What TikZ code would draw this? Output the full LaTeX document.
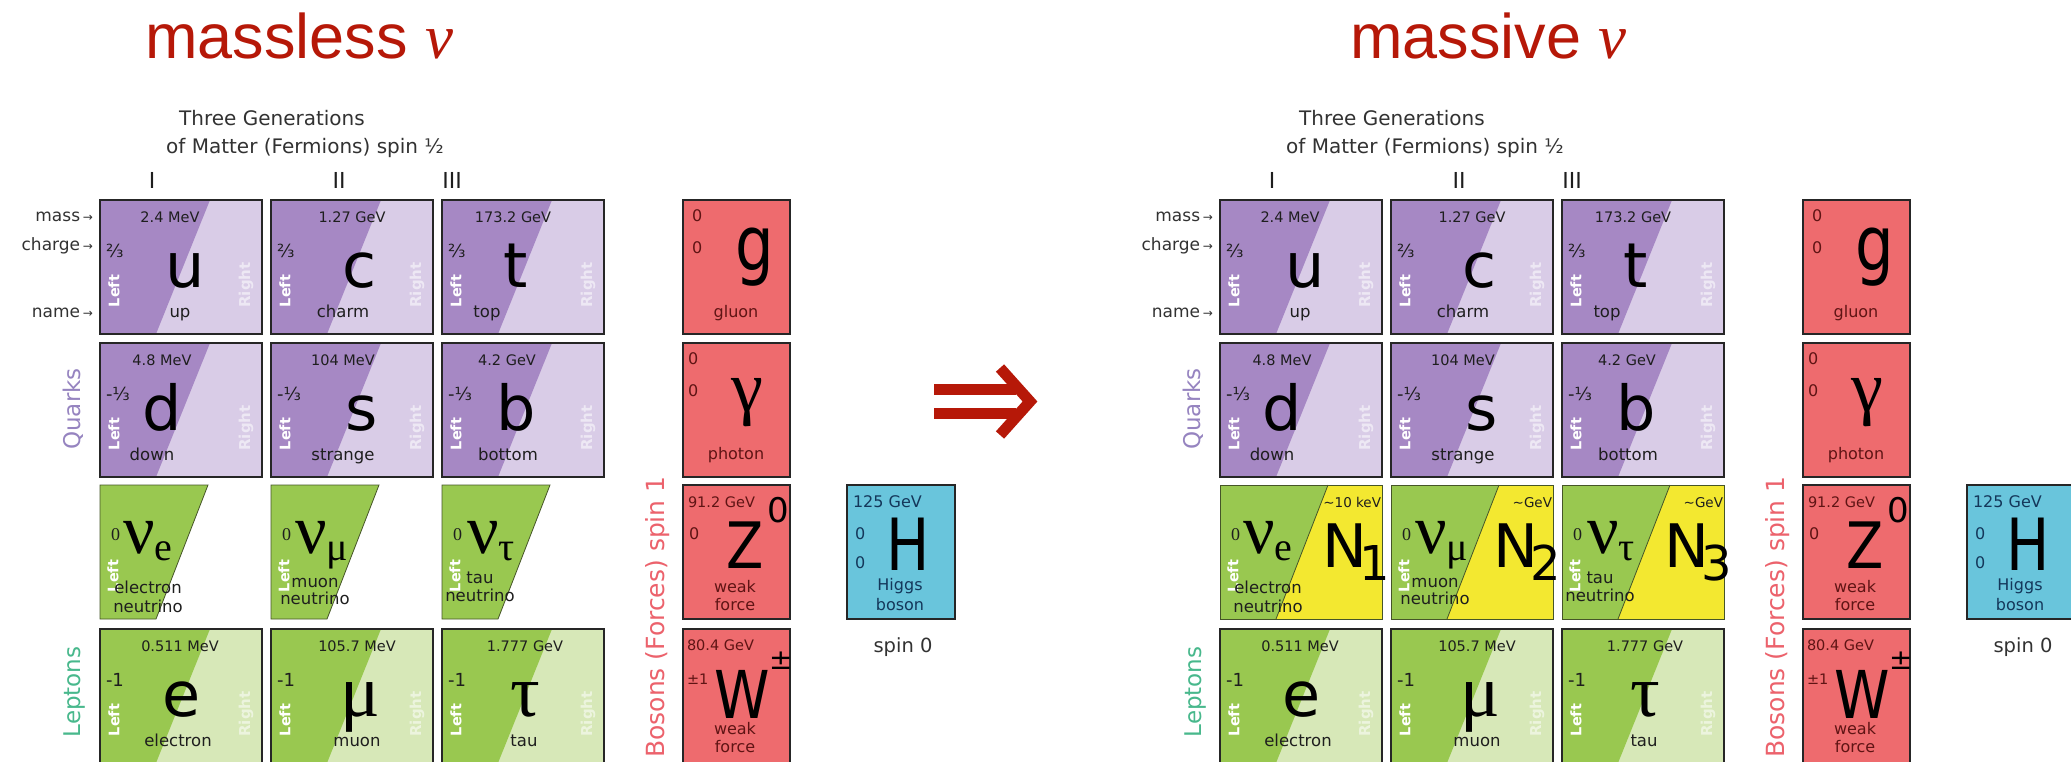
\documentclass[tikz,border=0pt]{standalone}
\usepackage{fontspec}
\usepackage{graphicx}
\setmainfont{DejaVu Sans}
\newfontfamily\titlefont{Liberation Sans}
\newfontfamily\grk{Liberation Serif}
\usetikzlibrary{calc}
\definecolor{titlered}{RGB}{182,24,8}
\definecolor{qdark}{RGB}{166,136,196}
\definecolor{qlight}{RGB}{217,204,231}
\definecolor{ldark}{RGB}{153,200,80}
\definecolor{llight}{RGB}{215,232,184}
\definecolor{nyellow}{RGB}{243,232,48}
\definecolor{bred}{RGB}{238,107,110}
\definecolor{hblue}{RGB}{105,197,220}
\definecolor{qlabel}{RGB}{150,132,192}
\definecolor{llabel}{RGB}{72,184,140}
\definecolor{blabel}{RGB}{236,98,108}
\definecolor{txt}{RGB}{30,30,30}
\definecolor{lbl}{RGB}{50,50,50}
\definecolor{bzero}{RGB}{95,20,20}
\definecolor{hzero}{RGB}{20,55,90}
\definecolor{nuline}{RGB}{70,85,40}
\newcommand{\fs}[1]{\fontsize{#1}{#1}\selectfont}
\tikzset{
 every node/.style={inner sep=0pt, outer sep=0pt},
 cellframe/.style={draw=black!85, line width=1.5pt},
 nuframe/.style={draw=nuline, line width=0.8pt},
 hdr/.style={anchor=base, font=\fs{20}, text=lbl},
 roman/.style={font=\fs{22}, text=txt},
 rowlbl/.style={anchor=base east, font=\fs{17}, text=lbl},
 catlbl/.style={rotate=90, font=\fs{23}},
 masstxt/.style={anchor=base, font=\fs{14.5}, text=txt},
 chgtxt/.style={anchor=base west, font=\fs{18}, text=txt},
 symtxt/.style={anchor=base, font=\fs{62}, text=black},
 nametxt/.style={anchor=base, font=\fs{16.5}, text=txt},
 lefttxt/.style={rotate=90, font=\bfseries\fs{14.5}, text=white},
 righttxt/.style={rotate=90, font=\bfseries\fs{15}, text=white, text opacity=0.55},
 nuzero/.style={anchor=base west, font=\grk\fs{18}, text=txt},
 nusym/.style={anchor=base west, font=\grk\fs{70}, text=black},
 Nsym/.style={anchor=base west, font=\fs{60}, text=black},
 Nmass/.style={anchor=base east, font=\fs{13.5}, text=txt},
 bzerotxt/.style={anchor=base west, font=\fs{16}, text=bzero},
 bmass/.style={anchor=base west, font=\fs{14.5}, text=bzero},
 bsym/.style={anchor=base, text=black},
 bname/.style={anchor=base, font=\fs{16}, text=bzero},
 hzerotxt/.style={anchor=base west, font=\fs{16}, text=hzero},
 hname/.style={anchor=base, font=\fs{16}, text=hzero},
 mytitle/.style={anchor=base west, font=\titlefont\fs{63}, text=titlered},
}
% fermion cell with left/right halves
\newcommand{\fermbox}[4]{%
  \coordinate (#1) at (#2,#3);
  \fill[#4light] (#2,#3) rectangle ++(162,134);
  \fill[#4dark] (#2,#3) -- ++(110,0) -- ++(-54,134) -- ++(-56,0) -- cycle;
  \draw[cellframe] (#2,#3) rectangle ++(162,134);
  \node[lefttxt] (#1-L) at ([shift={(14,91)}]#1) {Left};
  \node[righttxt] (#1-R) at ([shift={(146,85)}]#1) {Right};}
\newcommand{\fermtexts}[8]{%
  \node[masstxt] (#1-m) at ([shift={(#2,22)}]#1) {#3};
  \node[chgtxt] (#1-q) at ([shift={(6,57)}]#1) {#4};
  \node[symtxt] (#1-s) at ([shift={(#5,87)}]#1) {#6};
  \node[nametxt] (#1-n) at ([shift={(#7,117)}]#1) {#8};}
% massless neutrino: left-handed part only
\newcommand{\nubox}[3]{%
  \coordinate (#1) at (#2,#3);
  \filldraw[fill=ldark, nuframe] (#2,#3) -- ++(108,0) -- ++(-52,134) -- ++(-56,0) -- cycle;
  \node[lefttxt] (#1-L) at ([shift={(13,91)}]#1) {Left};}
% massive neutrino: left-handed part plus N
\newcommand{\nuNbox}[5]{%
  \coordinate (#1) at (#2,#3);
  \fill[nyellow] (#2,#3) rectangle ++(162,134);
  \fill[ldark] (#2,#3) -- ++(108,0) -- ++(-52,134) -- ++(-56,0) -- cycle;
  \draw[nuframe] ([shift={(108,0)}]#1) -- ([shift={(56,134)}]#1);
  \draw[nuframe] (#2,#3) rectangle ++(162,134);
  \node[lefttxt] (#1-L) at ([shift={(13,91)}]#1) {Left};
  \node[Nsym] (#1-N) at ([shift={(102,82)}]#1) {N\kern-7pt\raisebox{-13pt}{\fs{48}#4}};
  \node[Nmass] (#1-Nm) at ([shift={(161,22)}]#1) {#5};}
\newcommand{\nutexts}[8]{%
  \node[nuzero] (#1-q) at ([shift={(11,55)}]#1) {0};
  \node[nusym] (#1-s) at ([shift={(#2,68)}]#1) {ν\raisebox{-7pt}{\fs{40}#3}};
  \node[nametxt] (#1-n) at ([shift={(#4,#7)}]#1) {#5};
  \node[nametxt] (#1-n2) at ([shift={(#4,#8)}]#1) {#6};}
% common panel
\newcommand{\smpanel}[2]{%
  \node[hdr] (#1hA) at (#2+272,125) {Three Generations};
  \node[hdr] (#1hB) at (#2+305,153) {of Matter (Fermions) spin ½};
  \node[roman] (#1gI) at (#2+152,180) {I};
  \node[roman] (#1gII) at (#2+339,180) {II};
  \node[roman] (#1gIII) at (#2+452,180) {III};
  \node[rowlbl] (#1rm) at (#2+93,221) {mass\,{\fs{12}→}};
  \node[rowlbl] (#1rc) at (#2+93,250) {charge\,{\fs{12}→}};
  \node[rowlbl] (#1rn) at (#2+93,317) {name\,{\fs{12}→}};
  \node[catlbl, text=qlabel] (#1cq) at (#2+73,409) {Quarks};
  \node[catlbl, text=llabel] (#1cl) at (#2+75,692) {Leptons};
  \node[catlbl, font=\fs{25}, text=blabel] (#1cb) at (#2+658,617) {Bosons (Forces) spin 1};
  \fermbox{#1u}{#2+100}{200}{q}\fermtexts{#1u}{70}{2.4 MeV}{⅔}{85}{u}{80}{up}
  \fermbox{#1c}{#2+271}{200}{q}\fermtexts{#1c}{81}{1.27 GeV}{⅔}{89}{c}{72}{charm}
  \fermbox{#1t}{#2+442}{200}{q}\fermtexts{#1t}{71}{173.2 GeV}{⅔}{74}{t}{45}{top}
  \fermbox{#1d}{#2+100}{343}{q}\fermtexts{#1d}{62}{4.8 MeV}{-⅓}{62}{d}{52}{down}
  \fermbox{#1s}{#2+271}{343}{q}\fermtexts{#1s}{72}{104 MeV}{-⅓}{91}{s}{72}{strange}
  \fermbox{#1b}{#2+442}{343}{q}\fermtexts{#1b}{65}{4.2 GeV}{-⅓}{74}{b}{66}{bottom}
  \fermbox{#1e}{#2+100}{629}{l}\fermtexts{#1e}{80}{0.511 MeV}{-1}{82}{e}{78}{electron}
  \fermbox{#1m}{#2+271}{629}{l}\fermtexts{#1m}{86}{105.7 MeV}{-1}{89}{{\grk\fs{74}μ}}{86}{muon}
  \fermbox{#1ta}{#2+442}{629}{l}\fermtexts{#1ta}{83}{1.777 GeV}{-1}{83}{{\grk\fs{74}τ}}{82}{tau}
  % gluon
  \coordinate (#1bg) at (#2+683,200);
  \filldraw[fill=bred, cellframe] (#1bg) rectangle ++(107,134);
  \node[bzerotxt] (#1bg-m) at ([shift={(9,21)}]#1bg) {0};
  \node[bzerotxt] (#1bg-q) at ([shift={(9,53)}]#1bg) {0};
  \node[bsym, font=\fs{76}] (#1bg-s) at ([shift={(72,70)}]#1bg) {\scalebox{0.8}[1]{g}};
  \node[bname] (#1bg-n) at ([shift={(53,117)}]#1bg) {gluon};
  % photon
  \coordinate (#1bp) at (#2+683,343);
  \filldraw[fill=bred, cellframe] (#1bp) rectangle ++(107,134);
  \node[bzerotxt] (#1bp-m) at ([shift={(5,21)}]#1bp) {0};
  \node[bzerotxt] (#1bp-q) at ([shift={(5,53)}]#1bp) {0};
  \node[bsym, font=\grk\fs{72}] (#1bp-s) at ([shift={(64,68)}]#1bp) {γ};
  \node[bname] (#1bp-n) at ([shift={(53,116)}]#1bp) {photon};
  % Z
  \coordinate (#1bz) at (#2+683,485);
  \filldraw[fill=bred, cellframe] (#1bz) rectangle ++(107,134);
  \node[bmass] (#1bz-m) at ([shift={(5,22)}]#1bz) {91.2 GeV};
  \node[bzerotxt] (#1bz-q) at ([shift={(6,54)}]#1bz) {0};
  \node[bsym, font=\fs{64}] (#1bz-s) at ([shift={(62,83)}]#1bz) {\scalebox{0.85}[1]{Z}};
  \node[anchor=base west, font=\fs{34}] (#1bz-x) at ([shift={(84,37)}]#1bz) {0};
  \node[bname] (#1bz-n) at ([shift={(52,107)}]#1bz) {weak};
  \node[bname] (#1bz-n2) at ([shift={(52,125)}]#1bz) {force};
  % W
  \coordinate (#1bw) at (#2+683,629);
  \filldraw[fill=bred, cellframe] (#1bw) rectangle ++(107,134);
  \node[bmass] (#1bw-m) at ([shift={(4,21)}]#1bw) {80.4 GeV};
  \node[bmass] (#1bw-q) at ([shift={(4,55)}]#1bw) {±1};
  \node[bsym, font=\fs{66}] (#1bw-s) at ([shift={(59,89)}]#1bw) {\scalebox{0.85}[1]{W}};
  \node[anchor=base west, font=\fs{28}] (#1bw-x) at ([shift={(86,40)}]#1bw) {±};
  \node[bname] (#1bw-n) at ([shift={(52,105)}]#1bw) {weak};
  \node[bname] (#1bw-n2) at ([shift={(52,123)}]#1bw) {force};
  % Higgs
  \coordinate (#1bh) at (#2+847,485);
  \filldraw[fill=hblue, cellframe] (#1bh) rectangle ++(108,134);
  \node[anchor=base west, font=\fs{16}, text=hzero] (#1bh-m) at ([shift={(6,22)}]#1bh) {125 GeV};
  \node[hzerotxt] (#1bh-q) at ([shift={(8,54)}]#1bh) {0};
  \node[hzerotxt] (#1bh-q2) at ([shift={(8,83)}]#1bh) {0};
  \node[bsym, font=\fs{72}] (#1bh-s) at ([shift={(61,85)}]#1bh) {\scalebox{0.8}[1]{H}};
  \node[hname] (#1bh-n) at ([shift={(53,105)}]#1bh) {Higgs};
  \node[hname] (#1bh-n2) at ([shift={(53,125)}]#1bh) {boson};
  \node[anchor=base, font=\fs{19.5}, text=lbl] (#1sp0) at (#2+903,652) {spin 0};
}
\begin{document}
\begin{tikzpicture}[x=1pt,y=-1pt]
\useasboundingbox (0,0) rectangle (2071,761);
\clip (0,0) rectangle (2071,761);
\fill[white] (0,0) rectangle (2071,761);
% titles
\node[mytitle] (t1) at (145,58) {massless {\grk\itshape ν}};
\node[mytitle] (t2) at (1350,58) {massive {\grk\itshape ν}};
% panels
\smpanel{L}{0}
\smpanel{R}{1120}
% left: massless neutrinos
\nubox{Lne}{100}{485}\nutexts{Lne}{23}{e}{48}{electron}{neutrino}{108}{127}
\nubox{Lnm}{271}{485}\nutexts{Lnm}{24}{μ}{44}{muon}{neutrino}{102}{119}
\nubox{Lnt}{442}{485}\nutexts{Lnt}{25}{τ}{38}{tau}{neutrino}{98}{116}
% right: massive neutrinos
\nuNbox{Rne}{1220}{485}{1}{\textasciitilde10 keV}\nutexts{Rne}{23}{e}{48}{electron}{neutrino}{108}{127}
\nuNbox{Rnm}{1391}{485}{2}{\textasciitilde GeV}\nutexts{Rnm}{24}{μ}{44}{muon}{neutrino}{102}{119}
\nuNbox{Rnt}{1562}{485}{3}{\textasciitilde GeV}\nutexts{Rnt}{25}{τ}{38}{tau}{neutrino}{98}{116}
% implication arrow
\fill[titlered] (934,384) rectangle (1016,395);
\fill[titlered] (934,408) rectangle (1016,419);
\draw[titlered, line width=11pt, miter limit=10] (1000,368) -- (1030,401.5) -- (1000,435);
\end{tikzpicture}
\end{document}
